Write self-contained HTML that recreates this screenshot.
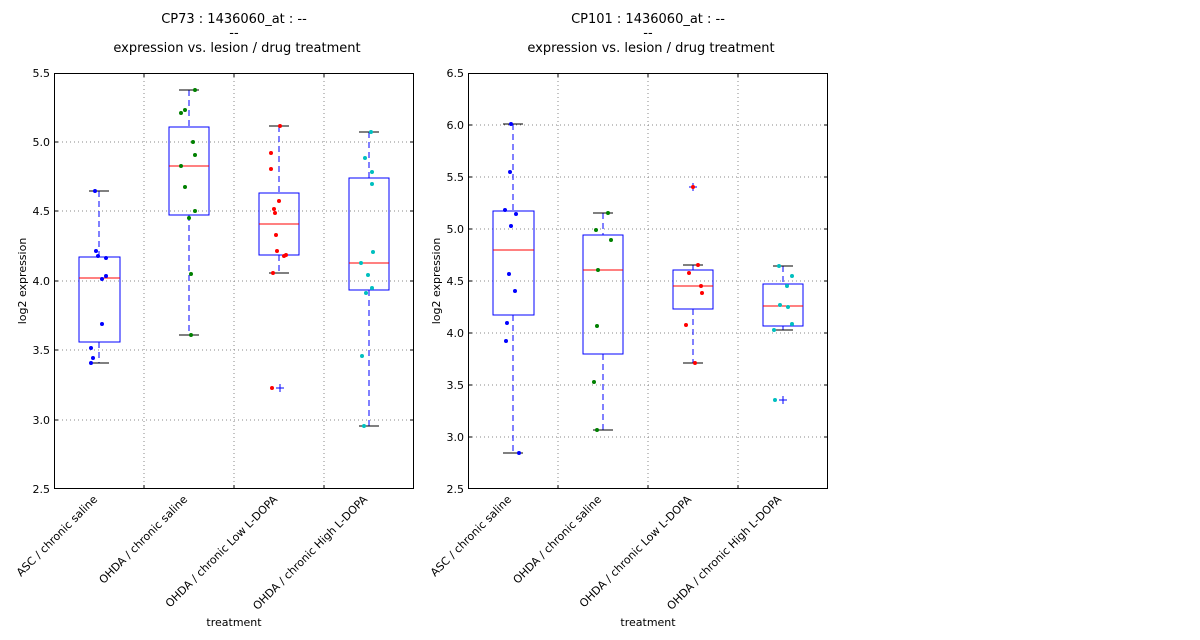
<!DOCTYPE html>
<html><head><meta charset="utf-8"><style>body{margin:0;background:#fff}svg{display:block;font-family:"DejaVu Sans","Liberation Sans",sans-serif}</style></head><body>
<svg width="1200" height="640" viewBox="0 0 1200 640" xmlns="http://www.w3.org/2000/svg">
<rect width="1200" height="640" fill="#fff"/>
<g font-size="13" text-anchor="middle">
<text x="234" y="23">CP73 : 1436060_at : --</text><text x="234" y="37">--</text><text x="237" y="52">expression vs. lesion / drug treatment</text>
<text x="648" y="23">CP101 : 1436060_at : --</text><text x="648" y="37">--</text><text x="651" y="52">expression vs. lesion / drug treatment</text>
</g>
<g stroke="#888" stroke-dasharray="1,3" stroke-width="1" shape-rendering="crispEdges">
<line x1="144" y1="73" x2="144" y2="489"/><line x1="234" y1="73" x2="234" y2="489"/><line x1="324" y1="73" x2="324" y2="489"/>
<line x1="54" y1="142" x2="414" y2="142"/><line x1="54" y1="211" x2="414" y2="211"/><line x1="54" y1="281" x2="414" y2="281"/><line x1="54" y1="350" x2="414" y2="350"/><line x1="54" y1="420" x2="414" y2="420"/>
<line x1="558" y1="73" x2="558" y2="489"/><line x1="648" y1="73" x2="648" y2="489"/><line x1="738" y1="73" x2="738" y2="489"/>
<line x1="468" y1="125" x2="828" y2="125"/><line x1="468" y1="177" x2="828" y2="177"/><line x1="468" y1="229" x2="828" y2="229"/><line x1="468" y1="281" x2="828" y2="281"/><line x1="468" y1="333" x2="828" y2="333"/><line x1="468" y1="385" x2="828" y2="385"/><line x1="468" y1="437" x2="828" y2="437"/>
</g>
<g fill="none" stroke-width="1" shape-rendering="crispEdges">
<g stroke="#00f" stroke-dasharray="6,4">
<line x1="99" y1="191" x2="99" y2="257"/><line x1="99" y1="342" x2="99" y2="363"/>
<line x1="189" y1="90" x2="189" y2="127"/><line x1="189" y1="215" x2="189" y2="335"/>
<line x1="279" y1="126" x2="279" y2="193"/><line x1="279" y1="255" x2="279" y2="273"/>
<line x1="369" y1="132" x2="369" y2="178"/><line x1="369" y1="290" x2="369" y2="426"/>
<line x1="513" y1="124" x2="513" y2="211"/><line x1="513" y1="315" x2="513" y2="453"/>
<line x1="603" y1="213" x2="603" y2="235"/><line x1="603" y1="354" x2="603" y2="430"/>
<line x1="693" y1="265" x2="693" y2="270"/><line x1="693" y1="309" x2="693" y2="363"/>
<line x1="783" y1="266" x2="783" y2="284"/><line x1="783" y1="326" x2="783" y2="330"/>
</g>
<g stroke="#000">
<line x1="89" y1="191" x2="109" y2="191"/><line x1="89" y1="363" x2="109" y2="363"/>
<line x1="179" y1="90" x2="199" y2="90"/><line x1="179" y1="335" x2="199" y2="335"/>
<line x1="269" y1="126" x2="289" y2="126"/><line x1="269" y1="273" x2="289" y2="273"/>
<line x1="359" y1="132" x2="379" y2="132"/><line x1="359" y1="426" x2="379" y2="426"/>
<line x1="503" y1="124" x2="523" y2="124"/><line x1="503" y1="453" x2="523" y2="453"/>
<line x1="593" y1="213" x2="613" y2="213"/><line x1="593" y1="430" x2="613" y2="430"/>
<line x1="683" y1="265" x2="703" y2="265"/><line x1="683" y1="363" x2="703" y2="363"/>
<line x1="773" y1="266" x2="793" y2="266"/><line x1="773" y1="330" x2="793" y2="330"/>
</g>
<g stroke="#00f">
<rect x="79" y="257" width="41" height="85"/><rect x="169" y="127" width="40" height="88"/><rect x="259" y="193" width="40" height="62"/><rect x="349" y="178" width="40" height="112"/>
<rect x="493" y="211" width="41" height="104"/><rect x="583" y="235" width="40" height="119"/><rect x="673" y="270" width="40" height="39"/><rect x="763" y="284" width="40" height="42"/>
<path d="M276 388h8M280 384v8M689 187h8M693 183v8M779 400h8M783 396v8"/>
</g>
<g stroke="#f00">
<line x1="79" y1="278" x2="120" y2="278"/><line x1="169" y1="166" x2="209" y2="166"/><line x1="259" y1="224" x2="299" y2="224"/><line x1="349" y1="263" x2="389" y2="263"/>
<line x1="493" y1="250" x2="534" y2="250"/><line x1="583" y1="270" x2="623" y2="270"/><line x1="673" y1="286" x2="713" y2="286"/><line x1="763" y1="306" x2="803" y2="306"/>
</g>
</g>
<g fill="#00f">
<circle cx="95" cy="191" r="2"/><circle cx="96" cy="251" r="2"/><circle cx="98" cy="256" r="2"/><circle cx="106" cy="258" r="2"/><circle cx="106" cy="276" r="2"/><circle cx="102" cy="279" r="2"/><circle cx="102" cy="324" r="2"/><circle cx="91" cy="348" r="2"/><circle cx="93" cy="358" r="2"/><circle cx="91" cy="363" r="2"/>
<circle cx="511" cy="124" r="2"/><circle cx="510" cy="172" r="2"/><circle cx="505" cy="210" r="2"/><circle cx="516" cy="214" r="2"/><circle cx="511" cy="226" r="2"/><circle cx="509" cy="274" r="2"/><circle cx="515" cy="291" r="2"/><circle cx="507" cy="323" r="2"/><circle cx="506" cy="341" r="2"/><circle cx="519" cy="453" r="2"/>
</g>
<g fill="#008000">
<circle cx="195" cy="90" r="2"/><circle cx="185" cy="110" r="2"/><circle cx="181" cy="113" r="2"/><circle cx="193" cy="142" r="2"/><circle cx="195" cy="155" r="2"/><circle cx="181" cy="166" r="2"/><circle cx="185" cy="187" r="2"/><circle cx="195" cy="211" r="2"/><circle cx="189" cy="218" r="2"/><circle cx="191" cy="274" r="2"/><circle cx="191" cy="335" r="2"/>
<circle cx="608" cy="213" r="2"/><circle cx="596" cy="230" r="2"/><circle cx="611" cy="240" r="2"/><circle cx="598" cy="270" r="2"/><circle cx="597" cy="326" r="2"/><circle cx="594" cy="382" r="2"/><circle cx="597" cy="430" r="2"/>
</g>
<g fill="#f00">
<circle cx="280" cy="126" r="2"/><circle cx="271" cy="153" r="2"/><circle cx="271" cy="169" r="2"/><circle cx="279" cy="201" r="2"/><circle cx="274" cy="209" r="2"/><circle cx="275" cy="213" r="2"/><circle cx="276" cy="235" r="2"/><circle cx="277" cy="251" r="2"/><circle cx="284" cy="256" r="2"/><circle cx="286" cy="255" r="2"/><circle cx="273" cy="273" r="2"/><circle cx="272" cy="388" r="2"/>
<circle cx="693" cy="187" r="2"/><circle cx="698" cy="265" r="2"/><circle cx="689" cy="273" r="2"/><circle cx="701" cy="286" r="2"/><circle cx="702" cy="293" r="2"/><circle cx="686" cy="325" r="2"/><circle cx="695" cy="363" r="2"/>
</g>
<g fill="#00bfbf">
<circle cx="371" cy="132" r="2"/><circle cx="365" cy="158" r="2"/><circle cx="372" cy="172" r="2"/><circle cx="372" cy="184" r="2"/><circle cx="373" cy="252" r="2"/><circle cx="361" cy="263" r="2"/><circle cx="368" cy="275" r="2"/><circle cx="372" cy="288" r="2"/><circle cx="366" cy="293" r="2"/><circle cx="362" cy="356" r="2"/><circle cx="364" cy="426" r="2"/>
<circle cx="779" cy="266" r="2"/><circle cx="792" cy="276" r="2"/><circle cx="787" cy="286" r="2"/><circle cx="780" cy="305" r="2"/><circle cx="788" cy="307" r="2"/><circle cx="792" cy="324" r="2"/><circle cx="774" cy="330" r="2"/><circle cx="775" cy="400" r="2"/>
</g>
<rect x="54.5" y="73.5" width="359" height="415" fill="none" stroke="#000"/>
<rect x="468.5" y="73.5" width="359" height="415" fill="none" stroke="#000"/>
<g stroke="#000" shape-rendering="crispEdges">
<path d="M144 73v4M234 73v4M324 73v4M144 489v-4M234 489v-4M324 489v-4M54 142h4M54 211h4M54 281h4M54 350h4M54 420h4M414 142h-4M414 211h-4M414 281h-4M414 350h-4M414 420h-4"/>
<path d="M558 73v4M648 73v4M738 73v4M558 489v-4M648 489v-4M738 489v-4M468 125h4M468 177h4M468 229h4M468 281h4M468 333h4M468 385h4M468 437h4M828 125h-4M828 177h-4M828 229h-4M828 281h-4M828 333h-4M828 385h-4M828 437h-4"/>
</g>
<g font-size="11" text-anchor="end">
<text x="50" y="77">5.5</text><text x="50" y="146">5.0</text><text x="50" y="215">4.5</text><text x="50" y="285">4.0</text><text x="50" y="354">3.5</text><text x="50" y="424">3.0</text><text x="50" y="493">2.5</text>
<text x="464" y="77">6.5</text><text x="464" y="129">6.0</text><text x="464" y="181">5.5</text><text x="464" y="233">5.0</text><text x="464" y="285">4.5</text><text x="464" y="337">4.0</text><text x="464" y="389">3.5</text><text x="464" y="441">3.0</text><text x="464" y="493">2.5</text>
<text transform="translate(98,500) rotate(-45)">ASC / chronic saline</text>
<text transform="translate(188,500) rotate(-45)">OHDA / chronic saline</text>
<text transform="translate(278,500) rotate(-45)">OHDA / chronic Low L-DOPA</text>
<text transform="translate(368,500) rotate(-45)">OHDA / chronic High L-DOPA</text>
<text transform="translate(512,500) rotate(-45)">ASC / chronic saline</text>
<text transform="translate(602,500) rotate(-45)">OHDA / chronic saline</text>
<text transform="translate(692,500) rotate(-45)">OHDA / chronic Low L-DOPA</text>
<text transform="translate(782,500) rotate(-45)">OHDA / chronic High L-DOPA</text>
</g>
<g font-size="11" text-anchor="middle">
<text x="234" y="626">treatment</text><text x="648" y="626">treatment</text>
<text transform="translate(26,281) rotate(-90)">log2 expression</text>
<text transform="translate(440,281) rotate(-90)">log2 expression</text>
</g>
</svg>
</body></html>
